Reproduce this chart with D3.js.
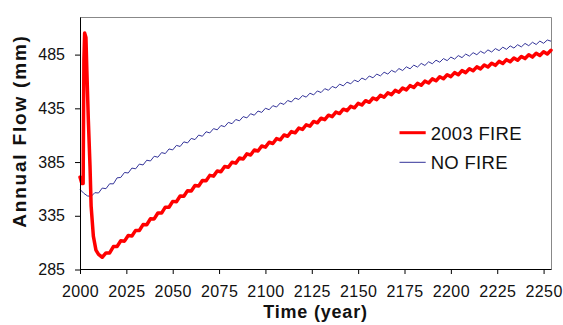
<!DOCTYPE html>
<html><head><meta charset="utf-8">
<script src="https://cdn.jsdelivr.net/npm/d3@7"></script>
<style>
body{margin:0;background:#fff}
svg{display:block;background:#fff}
text{font-family:Arial,"Liberation Sans",sans-serif;fill:#111}
</style>
</head><body>
<svg id="chart" width="563" height="325"></svg>
<script>
// ---- data ----
const seriesNames = ["2003 FIRE", "NO FIRE"];
const xTickValues = [2000, 2025, 2050, 2075, 2100, 2125, 2150, 2175, 2200, 2225, 2250];
const yTickValues = [285, 335, 385, 435, 485];
const xTitle = "Time (year)";
const yTitle = "Annual Flow (mm)";

// 2003 FIRE: fire spike (sub-annual reading) then every 2 years
const fireSpikeYears = [2000, 2001, 2001.7, 2002.1, 2002.5, 2003.2, 2003.7, 2004.5, 2005.4, 2006, 2007.2, 2008.6, 2010, 2012];
const fireSpikeValues = [371, 365, 365, 480, 505, 501, 470, 424, 381, 344, 316, 303, 299, 296.4];
const fireYears = d3.range(2014, 2256, 2);
const fireValues = [
300.4,300.4,306.3,306.4,311.7,311.4,316.6,316.2,321.4,321.3,326.8,326.7,332.2,332.1,337.6,337.5,343.0,342.9,348.4,348.1,
353.4,353.1,358.4,358.1,363.2,362.8,367.9,367.5,372.6,371.9,376.7,376.0,380.8,380.1,384.8,384.0,388.7,387.9,392.6,391.6,
396.2,395.3,399.9,398.9,403.4,402.3,406.8,405.7,410.2,409.0,413.4,412.2,416.6,415.4,419.7,418.4,422.8,421.5,425.8,424.4,
428.6,427.3,431.5,430.1,434.2,432.8,436.9,435.5,439.6,438.1,442.1,440.6,444.6,443.1,447.1,445.4,449.4,447.7,451.7,450.0,
453.9,452.2,456.1,454.4,458.2,456.5,460.3,458.6,462.4,460.6,464.4,462.5,466.3,464.5,468.2,466.3,470.1,468.2,471.9,470.0,
473.6,471.7,475.3,473.4,477.0,475.0,478.7,476.7,480.3,478.3,481.8,479.8,483.3,481.3,484.8,482.7,486.2,484.1,487.6,485.5,
489.0];

// NO FIRE: every 2 years
const noFireYears = d3.range(2000, 2256, 2);
const noFireValues = [
359.5,356.0,353.5,353.0,356.5,356.2,360.8,360.2,364.8,364.7,370.3,370.7,375.3,374.8,379.4,378.7,383.1,382.3,386.7,386.0,
390.4,389.5,393.8,392.9,397.2,396.3,400.5,399.5,403.8,402.8,407.0,405.9,410.1,409.0,413.2,412.1,416.1,415.0,419.0,417.9,
421.9,420.7,424.6,423.4,427.3,426.1,430.0,428.6,432.5,431.2,435.1,433.7,437.5,436.2,440.0,438.6,442.3,440.9,444.6,443.2,
446.9,445.4,449.1,447.5,451.2,449.7,453.3,451.8,455.4,453.9,457.5,455.9,459.4,457.8,461.3,459.7,463.2,461.5,465.1,463.4,
466.9,465.2,468.6,466.9,470.3,468.6,472.0,470.2,473.6,471.8,475.2,473.4,476.8,474.9,478.3,476.5,479.8,477.9,481.3,479.4,
482.7,480.8,484.1,482.2,485.5,483.6,486.8,484.9,488.1,486.2,489.4,487.4,490.6,488.7,491.9,489.9,493.1,491.1,494.2,492.2,
495.4,493.3,496.5,494.4,497.6,495.5,498.6,497.5];

const seriesColors = ["#ff0000", "#333399"];
const seriesWidths = [3.5, 1];

// ---- chart ----
const svg = d3.select("#chart");
const L = 80, R = 551, T = 17, B = 269.5;
const x = d3.scaleLinear().domain([2000, 2254]).range([L, R]);
const y = d3.scaleLinear().domain([285, 520]).range([B, T]);

const fireData = fireSpikeYears.map((yr, i) => [yr, fireSpikeValues[i]])
  .concat(fireYears.map((yr, i) => [yr, fireValues[i]]));
const noFireData = noFireYears.map((yr, i) => [yr, noFireValues[i]]);

// frame (top and right, gray)
svg.append("path")
  .attr("d", `M${L},${T + 0.5}H${R + 0.5}V${B}`)
  .attr("fill", "none").attr("stroke", "#888").attr("stroke-width", 1);

const line = d3.line().x(d => x(d[0])).y(d => y(d[1]));

svg.append("path").datum(noFireData)
  .attr("d", line).attr("fill", "none")
  .attr("stroke", seriesColors[1]).attr("stroke-width", seriesWidths[1])
  .attr("stroke-linejoin", "round");

svg.append("path").datum(fireData)
  .attr("d", line).attr("fill", "none")
  .attr("stroke", seriesColors[0]).attr("stroke-width", seriesWidths[0])
  .attr("stroke-linejoin", "round").attr("stroke-linecap", "round");

// axes
const yAxis = svg.append("g").attr("transform", `translate(${L},0)`)
  .call(d3.axisLeft(y).tickValues(yTickValues).tickSize(5).tickSizeOuter(0).tickPadding(10));
const xAxis = svg.append("g").attr("transform", `translate(0,${Math.floor(B)})`)
  .call(d3.axisBottom(x).tickValues(xTickValues).tickSize(5).tickSizeOuter(0).tickPadding(12).tickFormat(d3.format("d")));
[yAxis, xAxis].forEach(g => {
  g.selectAll("path,line").attr("stroke", "#000");
  g.selectAll("text").attr("font-size", 16).attr("fill", "#111")
    .attr("font-family", "Arial, 'Liberation Sans', sans-serif");
});
xAxis.selectAll("text").attr("letter-spacing", 0.4);

// titles
svg.append("text").attr("x", (L + R) / 2).attr("y", 318)
  .attr("text-anchor", "middle").attr("font-weight", "bold").attr("font-size", 18)
  .attr("letter-spacing", 0.8).text(xTitle);
svg.append("text").attr("transform", "translate(25.5,131) rotate(-90)")
  .attr("text-anchor", "middle").attr("font-weight", "bold").attr("font-size", 19)
  .attr("letter-spacing", 1.8).text(yTitle);

// legend
const legendY = [132.7, 162.3];
const legend = svg.append("g");
seriesNames.forEach((name, i) => {
  legend.append("line").attr("x1", 399.5).attr("x2", 425.7)
    .attr("y1", legendY[i]).attr("y2", legendY[i])
    .attr("stroke", seriesColors[i]).attr("stroke-width", i === 0 ? 3 : 1);
  legend.append("text").attr("x", 430.7).attr("y", legendY[i] + 6.8)
    .attr("font-size", 18.5).attr("letter-spacing", 0.3).text(name);
});
</script>
</body></html>
